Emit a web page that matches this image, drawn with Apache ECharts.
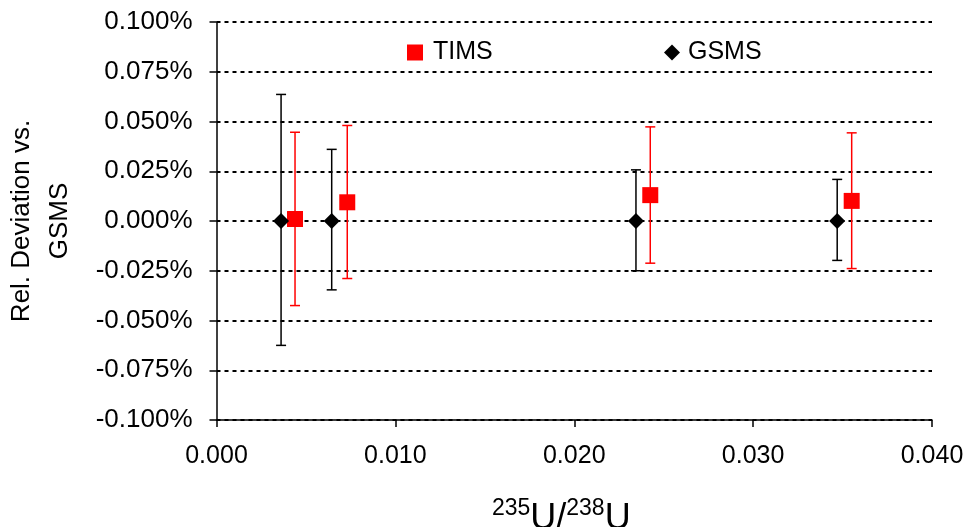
<!DOCTYPE html>
<html><head><meta charset="utf-8">
<script src="https://cdn.jsdelivr.net/npm/echarts@6/dist/echarts.min.js"></script>
<style>html,body{margin:0;padding:0;background:#fff}#c{width:969px;height:527px}</style>
</head><body><div id="c"></div>
<script>
// x values (235U/238U ratio)
const gsmsX = [0.00361, 0.00644, 0.02345, 0.03470];
const timsX = [0.00439, 0.00731, 0.02425, 0.03551];
// relative deviation vs GSMS (%)
const gsmsY = [0.000, 0.000, 0.000, 0.000];
const timsY = [0.001, 0.0094, 0.0130, 0.0101];
// error bar limits (%)
const gsmsLow = [-0.0625, -0.0346, -0.0250, -0.0198];
const gsmsHigh = [0.0636, 0.0360, 0.0257, 0.0209];
const timsLow = [-0.0425, -0.0289, -0.0212, -0.0239];
const timsHigh = [0.0446, 0.0480, 0.0473, 0.0443];
const xTicks = [0.000, 0.010, 0.020, 0.030, 0.040];
const yTicks = [-0.100, -0.075, -0.050, -0.025, 0.000, 0.025, 0.050, 0.075, 0.100];

const font = 'Liberation Sans, Arial, sans-serif';
function errSeries(name, xs, lo, hi, color) {
  return {
    name: name, type: 'custom', z: 3,
    data: xs.map((x, i) => [x, lo[i], hi[i]]),
    renderItem: function (params, api) {
      const p1 = api.coord([api.value(0), api.value(1)]);
      const p2 = api.coord([api.value(0), api.value(2)]);
      const hw = 5;
      const st = { stroke: color, lineWidth: 1.5 };
      return { type: 'group', children: [
        { type: 'line', shape: { x1: p1[0], y1: p1[1], x2: p2[0], y2: p2[1] }, style: st },
        { type: 'line', shape: { x1: p1[0]-hw, y1: p1[1], x2: p1[0]+hw, y2: p1[1] }, style: st },
        { type: 'line', shape: { x1: p2[0]-hw, y1: p2[1], x2: p2[0]+hw, y2: p2[1] }, style: st }
      ]};
    }
  };
}
const chart = echarts.init(document.getElementById('c'), null, { renderer: 'canvas' });
chart.setOption({
  animation: false,
  textStyle: { fontFamily: font, color: '#000' },
  grid: { left: 216.5, right: 37, top: 22, bottom: 107, containLabel: false, outerBoundsMode: 'none' },
  legend: [
    { data: [{ name: 'TIMS', icon: 'rect' }], left: 407, top: 40, padding: 0, itemWidth: 16, itemHeight: 16,
      textStyle: { fontSize: 25, color: '#000', fontFamily: font, padding: [0, 0, 0, 5] } },
    { data: [{ name: 'GSMS', icon: 'diamond' }], left: 664, top: 40, padding: 0, itemWidth: 16, itemHeight: 16,
      textStyle: { fontSize: 25, color: '#000', fontFamily: font, padding: [0, 0, 0, 3] } }
  ],
  xAxis: {
    type: 'value', min: xTicks[0], max: xTicks[xTicks.length-1], interval: 0.01,
    axisLine: { onZero: false, lineStyle: { color: '#000', width: 1.5 } },
    axisTick: { show: true, length: 7, lineStyle: { color: '#000', width: 1.5 } },
    axisLabel: { fontSize: 25, color: '#000', margin: 24, formatter: v => v.toFixed(3) },
    splitLine: { show: false },
    name: '{s|235}{u|U/}{s|238}{u|U}', nameLocation: 'middle', nameGap: 77,
    nameTextStyle: { padding: [0, 26, 0, 0], rich: {
      s: { fontSize: 23, color: '#000', fontFamily: font, verticalAlign: 'top', lineHeight: 40 },
      u: { fontSize: 36, color: '#000', fontFamily: font, verticalAlign: 'bottom', lineHeight: 40 }
    } }
  },
  yAxis: {
    type: 'value', min: yTicks[0], max: yTicks[yTicks.length-1], interval: 0.025,
    axisLine: { show: true, onZero: false, lineStyle: { color: '#000', width: 1.5 } },
    axisTick: { show: true, length: 7, lineStyle: { color: '#000', width: 1.5 } },
    axisLabel: { fontSize: 26, color: '#000', margin: 24, formatter: v => v.toFixed(3) + '%' },
    splitLine: { show: true, lineStyle: { color: '#000', width: 2, type: [4, 4] } },
    name: 'Rel. Deviation vs.\nGSMS', nameLocation: 'middle', nameGap: 138, nameRotate: 90,
    nameTextStyle: { fontSize: 26, color: '#000', lineHeight: 38, fontFamily: font }
  },
  series: [
    errSeries('GSMSerr', gsmsX, gsmsLow, gsmsHigh, '#000'),
    errSeries('TIMSerr', timsX, timsLow, timsHigh, '#ff0000'),
    { name: 'TIMS', type: 'scatter', symbol: 'rect', symbolSize: 16, z: 5,
      itemStyle: { color: '#ff0000', opacity: 1 }, data: timsX.map((x, i) => [x, timsY[i]]) },
    { name: 'GSMS', type: 'scatter', symbol: 'diamond', symbolSize: 16, z: 5,
      itemStyle: { color: '#000', opacity: 1 }, data: gsmsX.map((x, i) => [x, gsmsY[i]]) }
  ]
});
</script></body></html>
